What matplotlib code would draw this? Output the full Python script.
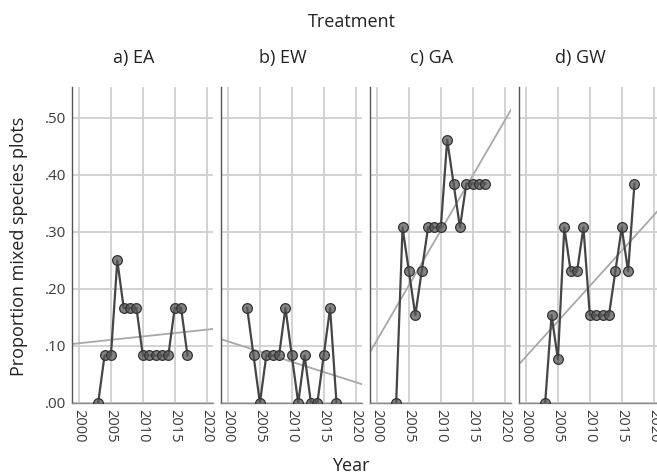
import matplotlib
matplotlib.use("Agg")
import matplotlib.pyplot as plt
import numpy as np

plt.rcParams['font.family'] = ['Open Sans', 'DejaVu Sans']

# survey years and proportion of mixed-species plots per treatment
years = np.arange(2003, 2018)
ea = np.array([0, 1, 1, 3, 2, 2, 2, 1, 1, 1, 1, 1, 2, 2, 1]) / 12
ew = np.array([2, 1, 0, 1, 1, 1, 2, 1, 0, 1, 0, 0, 1, 2, 0]) / 12
ga = np.array([0, 4, 3, 2, 3, 4, 4, 4, 6, 5, 4, 5, 5, 5, 5]) / 13
gw = np.array([0, 2, 1, 4, 3, 3, 4, 2, 2, 2, 2, 3, 4, 3, 5]) / 13

panel_titles = ["a) EA", "b) EW", "c) GA", "d) GW"]
series = [ea, ew, ga, gw]
xticks = [2000, 2005, 2010, 2015, 2020]
yticks = [0.0, 0.1, 0.2, 0.3, 0.4, 0.5]
ytick_labels = [".00", ".10", ".20", ".30", ".40", ".50"]

W, H = 657, 475
fig = plt.figure(figsize=(W / 100, H / 100), dpi=100)

lefts = [72, 221, 370, 519]
ax_w, ax_top, ax_bot = 141, 87, 403
xlim = (1998.9, 2021.0)

for i, (left, vals, title) in enumerate(zip(lefts, series, panel_titles)):
    ax = fig.add_axes([left / W, (H - ax_bot) / H, ax_w / W, (ax_bot - ax_top) / H])
    ax.set_xlim(*xlim)
    ax.set_ylim(0, 0.554)
    ax.set_xticks(xticks)
    ax.set_yticks(yticks)
    ax.grid(True, color="#cfcfcf", linewidth=1.3)
    ax.set_axisbelow(True)
    for side in ("top", "right"):
        ax.spines[side].set_visible(False)
    ax.spines["left"].set_color("#555555")
    ax.spines["left"].set_linewidth(1.0)
    ax.spines["bottom"].set_color("#8a8a8a")
    ax.spines["bottom"].set_linewidth(1.0)
    ax.tick_params(length=0, pad=4)
    ax.set_xticklabels([str(t) for t in xticks], rotation=270, fontsize=10.5,
                       color="#3a3a3a")
    if i == 0:
        ax.set_yticklabels(ytick_labels, fontsize=11, color="#3a3a3a")
    else:
        ax.set_yticklabels([])

    # linear trend over the survey years
    slope, icpt = np.polyfit(years, vals, 1)
    xs = np.array(xlim)
    ax.plot(xs, slope * xs + icpt, color="#a8a8a8", linewidth=1.3, zorder=2)

    ax.plot(years, vals, color="#454545", linewidth=1.6, marker="o",
            markersize=7, markerfacecolor=(0.35, 0.35, 0.35, 0.75),
            markeredgecolor="#333333", markeredgewidth=0.9, zorder=3)

    fig.text((left + ax_w / 2 - 9) / W, 1 - 58 / H, title, ha="center",
             va="center", fontsize=13, color="#222222")

fig.text(352 / W, 1 - 22 / H, "Treatment", ha="center", va="center",
         fontsize=13, color="#222222")
fig.text(351 / W, 1 - 466 / H, "Year", ha="center", va="center",
         fontsize=13, color="#222222")
fig.text(19 / W, 1 - 246 / H, "Proportion mixed species plots", ha="center",
         va="center", rotation=90, fontsize=13, color="#222222")

fig.savefig("out.png", dpi=100)
